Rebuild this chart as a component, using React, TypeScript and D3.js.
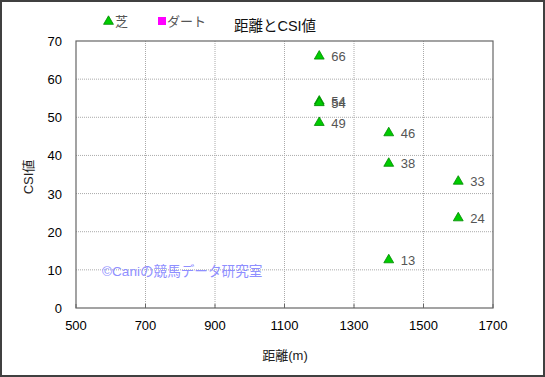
import React from "react";
import * as d3 from "d3";

const turfDistance = [1200, 1200, 1200, 1200, 1400, 1400, 1400, 1600, 1600];
const turfCSI = [66, 54.2, 53.8, 48.6, 45.9, 37.9, 12.6, 33.2, 23.6];
const turfLabels = ["66", "54", "54", "49", "46", "38", "13", "33", "24"];
const xTicks = [500, 700, 900, 1100, 1300, 1500, 1700];
const yTicks = [0, 10, 20, 30, 40, 50, 60, 70];
const legendNames = ["芝", "ダート"];

const W = 545;
const H = 377;
const FONT = "'Liberation Sans', 'Noto Sans CJK JP', sans-serif";

export default function App() {
  if (typeof document !== "undefined") document.body.style.margin = "0";
  const x = d3.scaleLinear().domain([500, 1700]).range([76, 493]);
  const y = d3.scaleLinear().domain([0, 70]).range([308, 41]);
  const tri = d3.symbol().type(d3.symbolTriangle).size(42)();
  return (
    <svg width={W} height={H} style={{ display: "block", fontFamily: FONT }}>
      <rect x={0} y={0} width={W} height={H} fill="#fff" />
      <rect x={1} y={1} width={W - 2} height={H - 2} fill="none" stroke="#404040" strokeWidth={2} />
      {xTicks.slice(1, -1).map((t) => (
        <line key={"gx" + t} x1={x(t)} x2={x(t)} y1={y(70)} y2={y(0)} stroke="#aaa" strokeWidth={1} strokeDasharray="1,1" />
      ))}
      {yTicks.slice(1, -1).map((t) => (
        <line key={"gy" + t} x1={x(500)} x2={x(1700)} y1={y(t)} y2={y(t)} stroke="#aaa" strokeWidth={1} strokeDasharray="1,1" />
      ))}
      <rect x={x(500)} y={y(70)} width={x(1700) - x(500)} height={y(0) - y(70)} fill="none" stroke="#666" strokeWidth={1.2} />
      {xTicks.map((t) => (
        <g key={"xt" + t}>
          <line x1={x(t)} x2={x(t)} y1={y(0)} y2={y(0) - 4} stroke="#666" />
          <text x={x(t)} y={y(0) + 22} textAnchor="middle" fontSize={13} fill="#000">{t}</text>
        </g>
      ))}
      {yTicks.map((t) => (
        <text key={"yt" + t} x={62} y={y(t) + 5} textAnchor="end" fontSize={13} fill="#000">{t}</text>
      ))}
      <text x={285} y={360} textAnchor="middle" fontSize={13} fill="#222">距離(m)</text>
      <text transform="translate(33,177) rotate(-90)" textAnchor="middle" fontSize={13} fill="#222">CSI値</text>
      <text x={275} y={31} textAnchor="middle" fontSize={14.5} fill="#111">距離とCSI値</text>
      <path d={tri} transform="translate(108.5,21.5)" fill="#00cc00" stroke="#008800" strokeWidth={0.8} />
      <text x={115} y={26} fontSize={13} fill="#555">{legendNames[0]}</text>
      <rect x={158} y={17} width={8} height={8} fill="#ff00ff" />
      <text x={167} y={26} fontSize={13} fill="#555">{legendNames[1]}</text>
      <text x={102} y={276} fontSize={13.6} fill="#8f8fff">©Caniの競馬データ研究室</text>
      {turfDistance.map((d, i) => (
        <g key={"p" + i}>
          <path d={tri} transform={`translate(${x(d)},${y(turfCSI[i])})`} fill="#00cc00" stroke="#008800" strokeWidth={0.8} />
          <text x={x(d) + 12} y={y(turfCSI[i]) + 5} fontSize={13} fill="#555">{turfLabels[i]}</text>
        </g>
      ))}
    </svg>
  );
}
